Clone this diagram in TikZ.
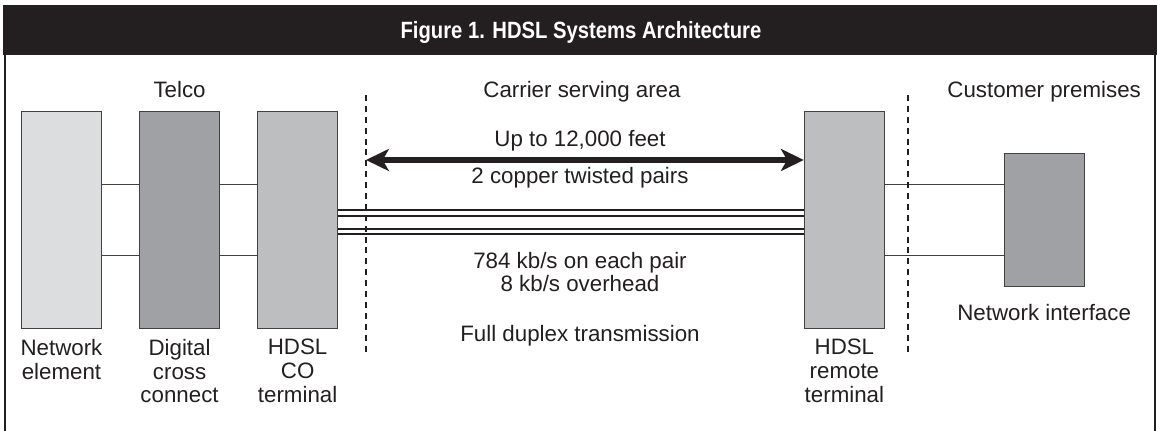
\documentclass[tikz,border=0pt]{standalone}
\usepackage{fontspec}
\setmainfont{Liberation Sans}
\newfontfamily\titlefont{Liberation Sans}[FakeStretch=0.86]
\usetikzlibrary{arrows.meta,positioning}
\definecolor{ink}{HTML}{231F20}
\definecolor{nelem}{HTML}{DCDDDF}
\definecolor{xconn}{HTML}{A0A1A5}
\definecolor{hdsl}{HTML}{BCBEC0}

\begin{document}
\begin{tikzpicture}[x=0.02cm,y=-0.02cm,node distance=21pt,
unit/.style={rectangle, draw=ink!85, line width=0.6pt, minimum width=45.6pt, minimum height=123.6pt, inner sep=0pt},
lab/.style={font=\fontsize{12.7}{13.6}\selectfont, text=ink, align=center, inner sep=0pt},
wire/.style={draw=ink!85, line width=0.6pt},
pair/.style={draw=ink, line width=1.1pt, double=white, double distance=2pt},
cut/.style={draw=ink, line width=0.85pt, dash pattern=on 3.4pt off 2.8pt},
span/.style={draw=ink, line width=2.9pt, {Stealth[length=13pt,width=12.5pt,inset=3.5pt]}-{Stealth[length=13pt,width=12.5pt,inset=3.5pt]}}]
\useasboundingbox (0,0) rectangle (1157,431);

% title bar and frame
\fill[ink] (3,5) rectangle (1157,55);
\node[font=\titlefont\bfseries\fontsize{13.4}{14}\selectfont, text=white, anchor=base] (title) at (581,39) {Figure 1. HDSL Systems Architecture};
\draw[ink, line width=0.9pt] (5,55) -- (5,431) (1155,55) -- (1155,431);

% the units
\node[unit, fill=nelem] (ne) at (61.5,220) {};
\node[unit, fill=xconn, right=of ne] (dxc) {};
\node[unit, fill=hdsl, right=of dxc] (co) {};
\node[unit, fill=hdsl, right=265pt of co] (rt) {};
\node[unit, fill=xconn, minimum height=76pt, right=67.5pt of rt] (ni) {};

% names under the units
\node[lab, below=5.4pt of ne] (nelab) {Network\\element};
\node[lab, below=5.4pt of dxc] (dxclab) {Digital\\cross\\connect};
\node[lab, below=5.4pt of co] (colab) {HDSL\\CO\\terminal};
\node[lab, below=5.4pt of rt] (rtlab) {HDSL\\remote\\terminal};
\node[lab, below=9.6pt of ni] (nilab) {Network interface};

% areas
\node[lab, anchor=base] (telco) at (dxc |- 0,98) {Telco};
\node[lab, anchor=base] (csa) at (582,98) {Carrier serving area};
\node[lab, anchor=base] (cust) at (ni |- 0,98) {Customer premises};

% loop notes
\node[lab, anchor=base] (reach) at (580,147) {Up to 12,000 feet};
\node[lab, anchor=base] (pairs) at (580,184) {2 copper twisted pairs};
\node[lab, anchor=base] (rate) at (580,292) {784 kb/s on each pair\\8 kb/s overhead};
\node[lab, anchor=base] (duplex) at (580,342) {Full duplex transmission};

% wires between the units
\draw[wire] ([yshift=20.4pt]ne.east) -- ([yshift=20.4pt]dxc.west);
\draw[wire] ([yshift=-20.4pt]ne.east) -- ([yshift=-20.4pt]dxc.west);
\draw[wire] ([yshift=20.4pt]dxc.east) -- ([yshift=20.4pt]co.west);
\draw[wire] ([yshift=-20.4pt]dxc.east) -- ([yshift=-20.4pt]co.west);
\draw[wire] ([yshift=20.4pt]rt.east) -- ([yshift=20.4pt]ni.west);
\draw[wire] ([yshift=-20.4pt]rt.east) -- ([yshift=-20.4pt]ni.west);

% the two copper pairs
\draw[pair] ([yshift=4pt]co.east) -- ([yshift=4pt]rt.west);
\draw[pair] ([yshift=-6.5pt]co.east) -- ([yshift=-6.5pt]rt.west);

% area borders
\coordinate (cut1) at (366,95);
\coordinate (cut1end) at (366,353);
\coordinate (cut2) at (908,95);
\coordinate (cut2end) at (908,353);
\draw[cut] (cut1) -- (cut1end);
\draw[cut] (cut2) -- (cut2end);

% loop length
\draw[span] (cut1 |- 0,160) -- (rt.west |- 0,160);

\end{tikzpicture}
\end{document}
